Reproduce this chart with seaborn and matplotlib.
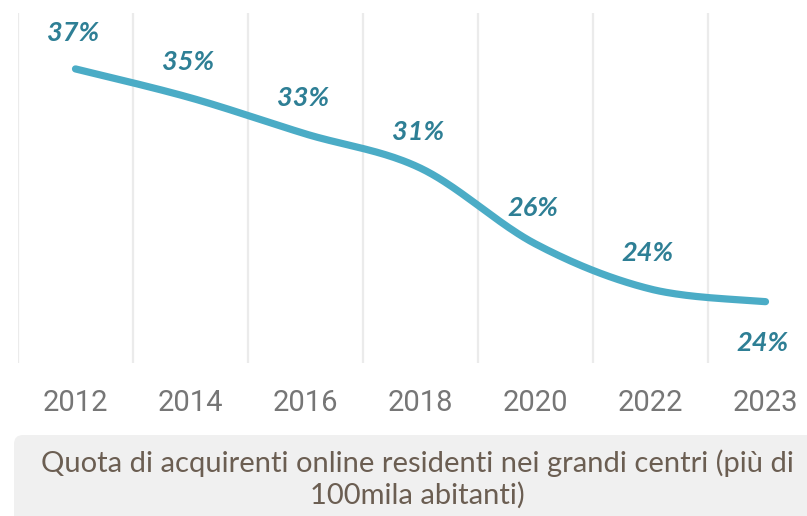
import numpy as np
import pandas as pd
import matplotlib
matplotlib.use("Agg")
import matplotlib.pyplot as plt
import seaborn as sns
from matplotlib.patches import FancyBboxPatch

# dati
anni = ["2012", "2014", "2016", "2018", "2020", "2022", "2023"]
quota = [37.0, 35.4, 33.4, 31.5, 27.3, 24.8, 24.1]
etichette = ["37%", "35%", "33%", "31%", "26%", "24%", "24%"]
titolo = "Quota di acquirenti online residenti nei grandi centri (più di\n100mila abitanti)"

LINEA = "#4BACC6"
TESTO = "#2E7F95"
GRIGIO = "#767676"

sns.set_style("white")
plt.rcParams["font.family"] = ["Lato", "DejaVu Sans"]

fig = plt.figure(figsize=(8.07, 5.16), dpi=100)
ax = fig.add_axes([18 / 807, 153 / 516, 805 / 807, 350 / 516])

# linea smussata tipo Excel (Catmull-Rom)
x = np.arange(len(anni), dtype=float)
y = np.array(quota)
px = np.concatenate([[x[0]], x, [x[-1]]])
py = np.concatenate([[y[0]], y, [y[-1]]])
xs, ys = [], []
t = np.linspace(0, 1, 40)
for i in range(1, len(px) - 2):
    p0, p1, p2, p3 = px[i - 1], px[i], px[i + 1], px[i + 2]
    q0, q1, q2, q3 = py[i - 1], py[i], py[i + 1], py[i + 2]
    for a, b, c, d, out in [(p0, p1, p2, p3, xs), (q0, q1, q2, q3, ys)]:
        out.extend(0.5 * (2 * b + (-a + c) * t + (2 * a - 5 * b + 4 * c - d) * t ** 2
                          + (-a + 3 * b - 3 * c + d) * t ** 3))
df = pd.DataFrame({"x": xs, "y": ys})
sns.lineplot(data=df, x="x", y="y", sort=False, ax=ax, color=LINEA,
             linewidth=5.2, solid_capstyle="round")

for i, (v, lab) in enumerate(zip(quota, etichette)):
    off = -30 if i == len(quota) - 1 else 26
    ax.annotate(lab, (i, v), xytext=(-2, off), textcoords="offset points",
                ha="center", va="center", fontsize=19.5, fontweight="bold",
                fontstyle="italic", color=TESTO)

ax.set_xlim(-0.5, 6.5)
ax.set_ylim(20.7, 40.1)
ax.set_xticks(x)
ax.set_xticklabels(anni, fontsize=21, color=GRIGIO,
                   family=["Liberation Sans Narrow", "Roboto", "DejaVu Sans"])
ax.set_xticks(np.arange(-0.5, 6.5, 1), minor=True)
ax.tick_params(axis="x", which="both", length=0, pad=19)
ax.set_yticks([])
ax.grid(False)
ax.grid(which="minor", axis="x", color="#EBEBEB", linewidth=1.6)
ax.set_xlabel("")
ax.set_ylabel("")
for s in ax.spines.values():
    s.set_visible(False)

box = FancyBboxPatch((14, -10), 810, 91, boxstyle="round,pad=0,rounding_size=9",
                     transform=None, facecolor="#F0F0F0", edgecolor="none", zorder=0)
fig.patches.append(box)
fig.text(417 / 807, 37 / 516, titolo, ha="center", va="center", fontsize=21,
         color="#6B5E52", linespacing=1.25)

fig.savefig("out.png", dpi=100)
